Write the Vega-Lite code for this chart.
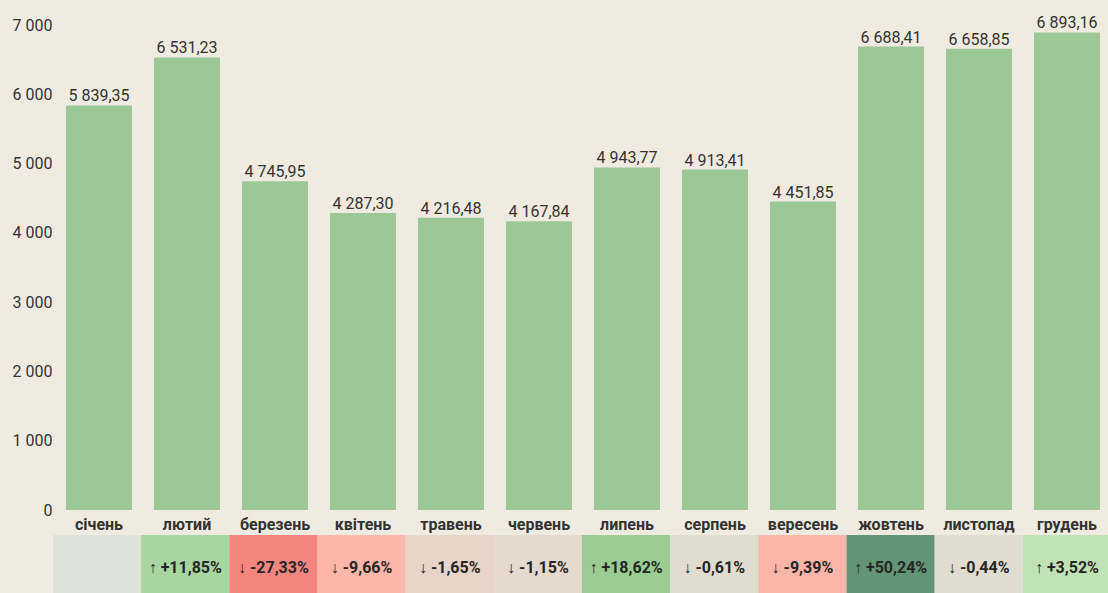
{
  "$schema": "https://vega.github.io/schema/vega-lite/v6.json",
  "background": "#f0ebe1",
  "padding": {"left": 12, "top": 15, "right": 0, "bottom": 0},
  "autosize": {"type": "pad"},
  "spacing": 3,
  "config": {
    "locale": {"number": {"decimal": ",", "thousands": " ", "grouping": [3], "currency": ["", ""]}},
    "view": {"stroke": null},
    "font": "Roboto",
    "concat": {"spacing": 3}
  },
  "data": {
    "values": [
      {"month": "січень", "value": 5839.35, "change": ""},
      {"month": "лютий", "value": 6531.23, "change": "↑ +11,85%"},
      {"month": "березень", "value": 4745.95, "change": "↓ -27,33%"},
      {"month": "квітень", "value": 4287.30, "change": "↓ -9,66%"},
      {"month": "травень", "value": 4216.48, "change": "↓ -1,65%"},
      {"month": "червень", "value": 4167.84, "change": "↓ -1,15%"},
      {"month": "липень", "value": 4943.77, "change": "↑ +18,62%"},
      {"month": "серпень", "value": 4913.41, "change": "↓ -0,61%"},
      {"month": "вересень", "value": 4451.85, "change": "↓ -9,39%"},
      {"month": "жовтень", "value": 6688.41, "change": "↑ +50,24%"},
      {"month": "листопад", "value": 6658.85, "change": "↓ -0,44%"},
      {"month": "грудень", "value": 6893.16, "change": "↑ +3,52%"}
    ]
  },
  "vconcat": [
    {
      "width": 1060,
      "height": 485,
      "encoding": {
        "x": {
          "field": "month", "type": "nominal", "sort": null,
          "scale": {"paddingInner": 0.25, "paddingOuter": 0.148},
          "axis": {"title": null, "labelAngle": 0, "ticks": false, "domain": false, "labelPadding": 6,
                   "labelFontSize": 16, "labelFontWeight": "bold", "labelColor": "#333333", "labelFont": "Roboto"}
        },
        "y": {
          "field": "value", "type": "quantitative",
          "scale": {"domain": [0, 7000], "nice": false},
          "axis": {"title": null, "values": [0, 1000, 2000, 3000, 4000, 5000, 6000, 7000], "format": ",d",
                   "grid": false, "ticks": false, "domain": false, "labelPadding": 1,
                   "labelFontSize": 16, "labelColor": "#333333", "labelFont": "Roboto"}
        }
      },
      "layer": [
        {"mark": {"type": "bar", "color": "#9cc897"}},
        {"mark": {"type": "text", "baseline": "alphabetic", "dy": -4, "fontSize": 16, "color": "#333333", "font": "Roboto"},
         "encoding": {"text": {"field": "value", "type": "quantitative", "format": ",.2f"}}}
      ]
    },
    {
      "width": 1058,
      "height": 65,
      "encoding": {
        "x": {"field": "month", "type": "nominal", "sort": null,
              "scale": {"paddingInner": 0, "paddingOuter": 0}, "axis": null}
      },
      "layer": [
        {"mark": {"type": "rect"},
         "encoding": {
           "color": {"field": "month", "type": "nominal", "legend": null,
             "scale": {"domain": ["січень", "лютий", "березень", "квітень", "травень", "червень", "липень", "серпень", "вересень", "жовтень", "листопад", "грудень"],
                       "range": ["#dde3d8", "#a7d6a0", "#f5867f", "#fdb6a8", "#e8d4c9", "#e6d9ce", "#9bcd93", "#e0ddd0", "#fdb5a8", "#629475", "#e0ddd0", "#c0e3b6"]}}
         }},
        {"mark": {"type": "text", "fontSize": 16, "fontWeight": "bold", "color": "#262626", "font": "Roboto", "baseline": "middle"},
         "encoding": {"text": {"field": "change"}}}
      ]
    }
  ]
}
